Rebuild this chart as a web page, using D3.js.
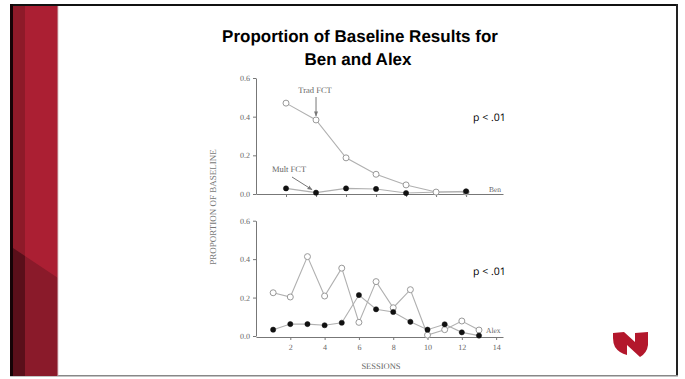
<!DOCTYPE html>
<html>
<head>
<meta charset="utf-8">
<script src="https://cdn.jsdelivr.net/npm/d3@7"></script>
<style>
  html, body { margin: 0; padding: 0; background: #fff; }
  svg { display: block; }
  text { text-rendering: geometricPrecision; }
</style>
</head>
<body>
<svg id="slide" width="685" height="379"></svg>
<script>
// Ben: sessions 1-7
const benSessions = [1, 2, 3, 4, 5, 6, 7];
const benTrad = [0.47, 0.383, 0.187, 0.102, 0.047, 0.01, 0.01];
const benMultSessions = [1, 2, 3, 4, 5, 7];
const benMult = [0.029, 0.007, 0.029, 0.026, 0.005, 0.014];

// Alex: sessions 1-13
const alexSessions = [1, 2, 3, 4, 5, 6, 7, 8, 9, 10, 11, 12, 13];
const alexTrad = [0.225, 0.203, 0.413, 0.208, 0.353, 0.071, 0.283, 0.147, 0.241, 0.005, 0.033, 0.078, 0.031];
const alexMult = [0.033, 0.062, 0.062, 0.056, 0.069, 0.213, 0.139, 0.125, 0.074, 0.033, 0.061, 0.019, 0.002];

const yTicks = [0, 0.2, 0.4, 0.6];
const xTicks = [2, 4, 6, 8, 10, 12, 14];

const svg = d3.select("#slide");

// ---- slide frame and side band ----
svg.append("rect").attr("x", 10).attr("y", 5).attr("width", 667).attr("height", 371)
  .attr("fill", "#fff");
svg.append("rect").attr("x", 10).attr("y", 4).attr("width", 668).attr("height", 2).attr("fill", "#111");
svg.append("rect").attr("x", 676).attr("y", 4).attr("width", 2).attr("height", 372).attr("fill", "#222");
svg.append("rect").attr("x", 10).attr("y", 375).attr("width", 668).attr("height", 1.5).attr("fill", "#888");
svg.append("rect").attr("x", 10).attr("y", 4).attr("width", 3).attr("height", 372).attr("fill", "#150306");

// red band, lighter above the diagonal, darker below it
svg.append("rect").attr("x", 13).attr("y", 6).attr("width", 12).attr("height", 370).attr("fill", "#8e1a29");
svg.append("rect").attr("x", 25).attr("y", 6).attr("width", 33).attr("height", 370).attr("fill", "#ab1f33");
svg.append("path").attr("d", "M13,248 L58,278 L58,376 L13,376 Z").attr("fill", "#8a1a2a");
svg.append("path").attr("d", "M13,248 L25,256 L25,376 L13,376 Z").attr("fill", "#5a0f1a");
svg.append("rect").attr("x", 57).attr("y", 6).attr("width", 1.5).attr("height", 370).attr("fill", "#c9a0a6").attr("opacity", 0.6);

// ---- title ----
const title = svg.append("text")
  .attr("text-anchor", "middle")
  .attr("font-family", "Liberation Sans, Arial, sans-serif")
  .attr("font-weight", "bold")
  .attr("font-size", 17)
  .attr("fill", "#000");
title.append("tspan").attr("x", 360).attr("y", 42).text("Proportion of Baseline Results for");
title.append("tspan").attr("x", 358).attr("y", 65).text("Ben and Alex");

// ---- scales ----
const xBen = d3.scaleLinear().domain([0, 8.23]).range([256, 503]);
const yBen = d3.scaleLinear().domain([0, 0.6]).range([194, 78]);
const xAlex = d3.scaleLinear().domain([0, 14.4]).range([256, 503]);
const yAlex = d3.scaleLinear().domain([0, 0.6]).range([336, 220.7]);

const axisColor = "#777";
const serif = "Liberation Serif, Times New Roman, serif";

function styleAxis(g) {
  g.selectAll("path, line").attr("stroke", axisColor).attr("stroke-width", 1);
  g.selectAll("text").attr("fill", "#666").attr("font-family", serif).attr("font-size", 8);
}

// upper panel axes
svg.append("g").attr("transform", `translate(${xBen(0)},0)`)
  .call(d3.axisLeft(yBen).tickValues(yTicks).tickFormat(d3.format(".1f")).tickSize(3).tickSizeOuter(0).tickPadding(3))
  .call(styleAxis);
svg.append("g").attr("transform", `translate(0,${yBen(0)})`)
  .call(d3.axisBottom(xBen).tickValues(benSessions).tickFormat("").tickSize(3).tickSizeOuter(0))
  .call(styleAxis);

// lower panel axes
svg.append("g").attr("transform", `translate(${xAlex(0)},0)`)
  .call(d3.axisLeft(yAlex).tickValues(yTicks).tickFormat(d3.format(".1f")).tickSize(3).tickSizeOuter(0).tickPadding(3))
  .call(styleAxis);
svg.append("g").attr("transform", `translate(0,${yAlex(0) + 1})`)
  .call(d3.axisBottom(xAlex).tickValues(xTicks).tickFormat(d3.format("d")).tickSize(3).tickSizeOuter(0).tickPadding(4))
  .call(styleAxis);

// axis titles
svg.append("text")
  .attr("transform", "translate(216,207) rotate(-90)")
  .attr("text-anchor", "middle")
  .attr("font-family", serif).attr("font-size", 9).attr("fill", "#777")
  .text("PROPORTION OF BASELINE");
svg.append("text")
  .attr("x", 381).attr("y", 369)
  .attr("text-anchor", "middle")
  .attr("font-family", serif).attr("font-size", 8.5).attr("fill", "#666")
  .text("SESSIONS");

// ---- series ----
const lineColor = "#b0b0b0";
function drawSeries(xs, ys, sx, sy) {
  const pts = xs.map((s, i) => [s, ys[i]]);
  svg.append("path")
    .datum(pts)
    .attr("fill", "none")
    .attr("stroke", lineColor)
    .attr("stroke-width", 1.1)
    .attr("d", d3.line().x(d => sx(d[0])).y(d => sy(d[1])));
  return pts;
}
function drawDots(pts, sx, sy, filled) {
  svg.append("g").selectAll("circle").data(pts).join("circle")
    .attr("cx", d => sx(d[0])).attr("cy", d => sy(d[1]))
    .attr("r", filled ? 2.6 : 3)
    .attr("fill", filled ? "#111" : "#fff")
    .attr("stroke", filled ? "#111" : "#999")
    .attr("stroke-width", filled ? 0.5 : 1);
}

// Ben
const benTradPts = drawSeries(benSessions, benTrad, xBen, yBen);
const benMultPts = drawSeries(benMultSessions, benMult, xBen, yBen);
drawDots(benTradPts, xBen, yBen, false);
drawDots(benMultPts, xBen, yBen, true);

// Alex
const alexTradPts = drawSeries(alexSessions, alexTrad, xAlex, yAlex);
const alexMultPts = drawSeries(alexSessions, alexMult, xAlex, yAlex);
drawDots(alexTradPts, xAlex, yAlex, false);
drawDots(alexMultPts, xAlex, yAlex, true);

// ---- annotations ----
svg.append("defs").append("marker")
  .attr("id", "arrowhead").attr("viewBox", "0 0 10 10")
  .attr("refX", 9).attr("refY", 5)
  .attr("markerWidth", 5).attr("markerHeight", 5)
  .attr("orient", "auto")
  .append("path").attr("d", "M0,1 L10,5 L0,9 Z").attr("fill", "#777");

const tradX = xBen(2), tradY = yBen(benTrad[1]);
svg.append("text").attr("x", tradX - 1).attr("y", 93).attr("text-anchor", "middle")
  .attr("font-family", serif).attr("font-size", 8.5).attr("fill", "#666").text("Trad FCT");
svg.append("line").attr("x1", tradX).attr("y1", 97).attr("x2", tradX).attr("y2", tradY - 4)
  .attr("stroke", "#777").attr("stroke-width", 1).attr("marker-end", "url(#arrowhead)");

const multX = xBen(2), multY = yBen(benMult[1]);
svg.append("text").attr("x", 289).attr("y", 172).attr("text-anchor", "middle")
  .attr("font-family", serif).attr("font-size", 8.5).attr("fill", "#666").text("Mult FCT");
svg.append("line").attr("x1", 292).attr("y1", 177).attr("x2", multX - 4).attr("y2", multY - 3)
  .attr("stroke", "#777").attr("stroke-width", 1).attr("marker-end", "url(#arrowhead)");

svg.append("text").attr("x", 489).attr("y", 192)
  .attr("font-family", serif).attr("font-size", 7.5).attr("fill", "#666").text("Ben");
svg.append("text").attr("x", 486).attr("y", 333)
  .attr("font-family", serif).attr("font-size", 7.5).attr("fill", "#666").text("Alex");

const pStyle = sel => sel.attr("font-family", "Open Sans, Liberation Sans, sans-serif")
  .attr("font-size", 10.5).attr("fill", "#000");
svg.append("text").attr("x", 473).attr("y", 121).text("p < .01").call(pStyle);
svg.append("text").attr("x", 473).attr("y", 275).text("p < .01").call(pStyle);

// ---- shield logo ----
svg.append("path")
  .attr("transform", "translate(613,332)")
  .attr("d", "M0,1 L11,0 L22,10 L22,1 L35,0 L35,13 Q34,21 27,25 L14,13 L14,23 Q6,21 2,15 Q0,11 0,6 Z")
  .attr("fill", "#b3172c");
</script>
</body>
</html>
